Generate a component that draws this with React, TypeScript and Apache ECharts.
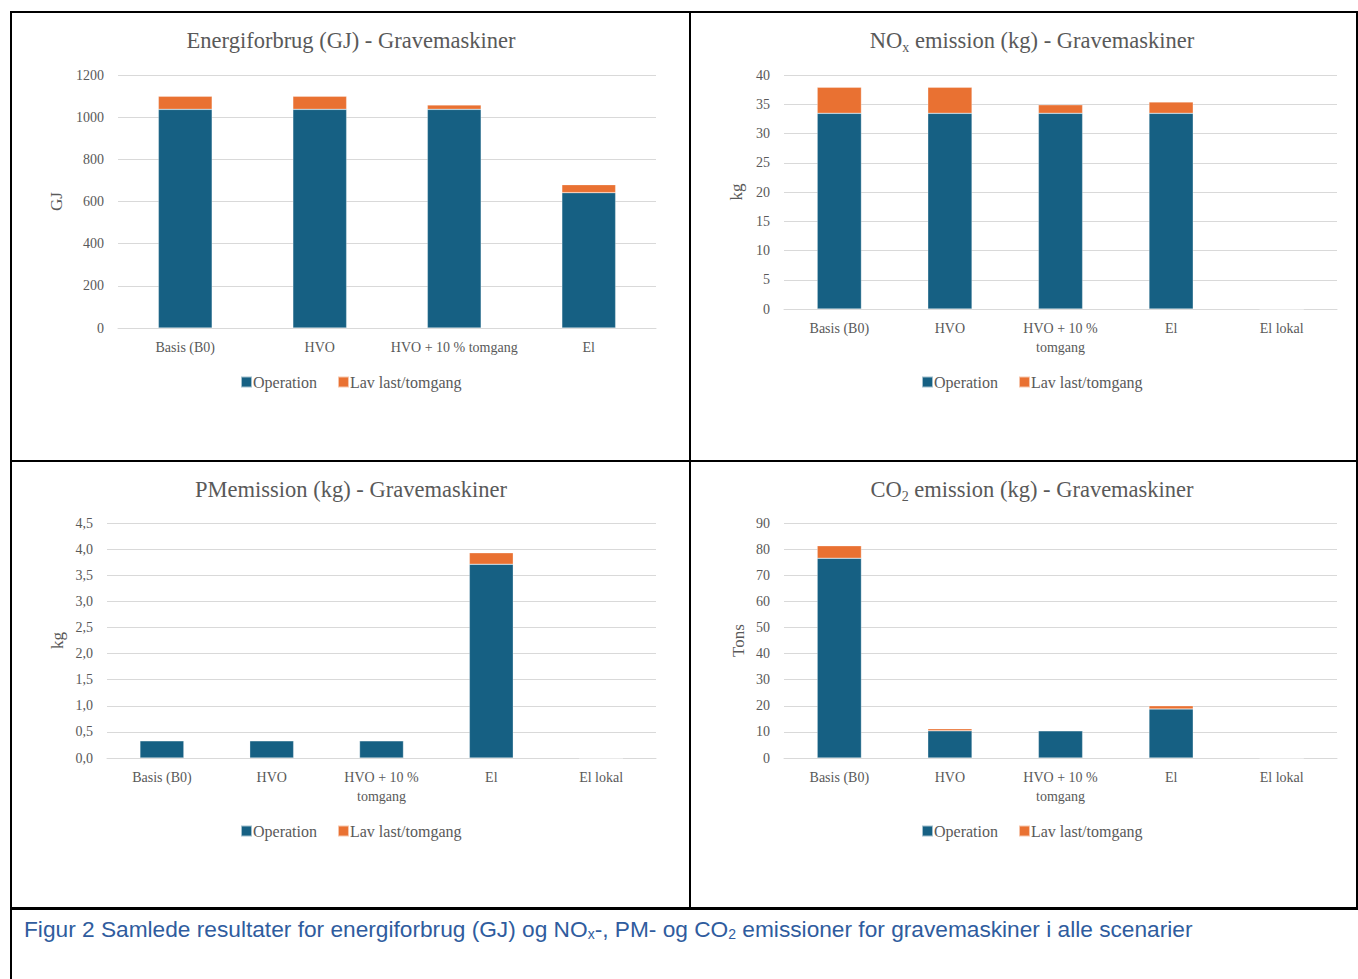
import React, { useEffect, useRef } from "react";
import * as echarts from "echarts";

const CATS4 = ["Basis (B0)", "HVO", "HVO + 10 % tomgang", "El"];
const CATS5 = ["Basis (B0)", "HVO", "HVO + 10 % tomgang", "El", "El lokal"];
const SERIES_NAMES = ["Operation", "Lav last/tomgang"];

const energyOp = [1037, 1037, 1037, 642];
const energyLav = [62, 62, 21, 38];
const noxOp = [33.45, 33.45, 33.45, 33.45, 0];
const noxLav = [4.45, 4.45, 1.45, 1.95, 0];
const pmOp = [0.33, 0.33, 0.33, 3.71, 0];
const pmLav = [0.004, 0.004, 0.002, 0.22, 0];
const co2Op = [76.5, 10.4, 10.4, 18.8, 0];
const co2Lav = [4.8, 0.8, 0.15, 1.2, 0];

const C_OP = "#166083";
const C_LAV = "#E97132";
const TXT = "#595959";
const SERIF = "'Liberation Serif', 'Times New Roman', serif";
const SANS = "'Liberation Sans', Arial, sans-serif";

export default function App() {
  const ref = useRef<HTMLDivElement>(null);
  useEffect(() => {
    document.body.style.margin = "0";
    const chart = echarts.init(ref.current!, null, { renderer: "svg" });

    const grids = [
      { left: 118, top: 75, width: 538, height: 253 },
      { left: 784, top: 75, width: 553, height: 234 },
      { left: 107, top: 523, width: 549, height: 235 },
      { left: 784, top: 523, width: 553, height: 235 },
    ];
    const wrap = (v: string) => v.replace("10 % ", "10 %\n");
    const xAxes = [
      { cats: CATS4, fmt: (v: string) => v },
      { cats: CATS5, fmt: wrap },
      { cats: CATS5, fmt: wrap },
      { cats: CATS5, fmt: wrap },
    ].map((a, i) => ({
      type: "category",
      gridIndex: i,
      data: a.cats,
      axisLine: { lineStyle: { color: "#d9d9d9", width: 1 } },
      axisTick: { show: false },
      axisLabel: {
        color: TXT,
        fontFamily: SERIF,
        fontSize: 14,
        lineHeight: 19,
        margin: 10,
        interval: 0,
        formatter: a.fmt,
      },
    }));
    const yDefs = [
      { max: 1200, interval: 200, name: "GJ", gap: 53, dec: false },
      { max: 40, interval: 5, name: "kg", gap: 39, dec: false },
      { max: 4.5, interval: 0.5, name: "kg", gap: 41, dec: true },
      { max: 90, interval: 10, name: "Tons", gap: 37, dec: false },
    ];
    const yAxes = yDefs.map((d, i) => ({
      type: "value",
      gridIndex: i,
      min: 0,
      max: d.max,
      interval: d.interval,
      name: d.name,
      nameLocation: "middle",
      nameRotate: 90,
      nameGap: d.gap,
      nameTextStyle: { color: TXT, fontFamily: SERIF, fontSize: 17 },
      axisLine: { show: false },
      axisTick: { show: false },
      splitLine: { lineStyle: { color: "#d9d9d9", width: 1 } },
      axisLabel: {
        color: TXT,
        fontFamily: SERIF,
        fontSize: 14,
        margin: 14,
        formatter: (v: number) => (d.dec ? v.toFixed(1).replace(".", ",") : String(v)),
      },
    }));

    const data = [
      [energyOp, energyLav],
      [noxOp, noxLav],
      [pmOp, pmLav],
      [co2Op, co2Lav],
    ];
    const series: any[] = [];
    data.forEach((pair, i) => {
      pair.forEach((vals, j) => {
        series.push({
          type: "bar",
          name: SERIES_NAMES[j],
          xAxisIndex: i,
          yAxisIndex: i,
          stack: "s" + i,
          barWidth: "40%",
          data: vals,
          itemStyle: {
            color: j === 0 ? C_OP : C_LAV,
            borderColor: "rgba(255,255,255,0.6)",
            borderWidth: 0.5,
          },
        });
      });
    });

    const titleStyle = {
      color: TXT,
      fontFamily: SERIF,
      fontSize: 22.5,
      fontWeight: "normal",
      rich: {
        n: { color: TXT, fontFamily: SERIF, fontSize: 22.5, fontWeight: "normal" },
        sub: {
          color: TXT,
          fontFamily: SERIF,
          fontSize: 14,
          fontWeight: "normal",
          padding: [14, 0, 0, 0],
        },
      },
    };
    const titles = [
      { x: 346, y: 24, text: "{n|Energiforbrug (GJ) - Gravemaskiner}" },
      { x: 1027, y: 21, text: "{n|NO}{sub|x}{n| emission (kg) - Gravemaskiner}" },
      { x: 346, y: 473, text: "{n|PMemission (kg) - Gravemaskiner}" },
      { x: 1027, y: 470, text: "{n|CO}{sub|2}{n| emission (kg) - Gravemaskiner}" },
    ].map((t) => ({
      text: t.text,
      left: t.x,
      top: t.y,
      textAlign: "center",
      textStyle: titleStyle,
    }));

    const legends = [
      { x: 352, y: 369 },
      { x: 1033, y: 369 },
      { x: 352, y: 818 },
      { x: 1033, y: 818 },
    ].map((l) => ({
      data: SERIES_NAMES,
      left: l.x - 117,
      top: l.y,
      itemWidth: 11,
      itemHeight: 11,
      itemGap: 20,
      icon: "rect",
      selectedMode: false,
      textStyle: { color: TXT, fontFamily: SERIF, fontSize: 16, padding: [0, 0, 0, -4] },
    }));

    const line = (x1: number, y1: number, x2: number, y2: number, w = 2) => ({
      type: "line",
      shape: { x1, y1, x2, y2 },
      style: { stroke: "#000", lineWidth: w },
      silent: true,
    });

    chart.setOption({
      animation: false,
      backgroundColor: "#fff",
      title: titles,
      legend: legends,
      grid: grids,
      xAxis: xAxes,
      yAxis: yAxes,
      series,
      graphic: [
        line(10, 12, 1358, 12),
        line(11, 12, 11, 979),
        line(690, 12, 690, 909),
        line(1357, 12, 1357, 909),
        line(10, 461, 1358, 461),
        line(10, 908.5, 1358, 908.5, 3),
        {
          type: "text",
          left: 24,
          top: 917,
          style: {
            text:
              "{m|Figur 2 Samlede resultater for energiforbrug (GJ) og NO}{s|x}{m|-, PM- og CO}{s|2}{m| emissioner for gravemaskiner i alle scenarier}",
            rich: {
              m: { fill: "#2F5C9E", fontFamily: SANS, fontSize: 22.7 },
              s: {
                fill: "#2F5C9E",
                fontFamily: SANS,
                fontSize: 14,
                padding: [11, 0, 0, 0],
              },
            },
          },
        },
      ],
    });
    return () => chart.dispose();
  }, []);
  return (
    <div
      ref={ref}
      style={{ position: "absolute", left: 0, top: 0, width: 1358, height: 979 }}
    />
  );
}
